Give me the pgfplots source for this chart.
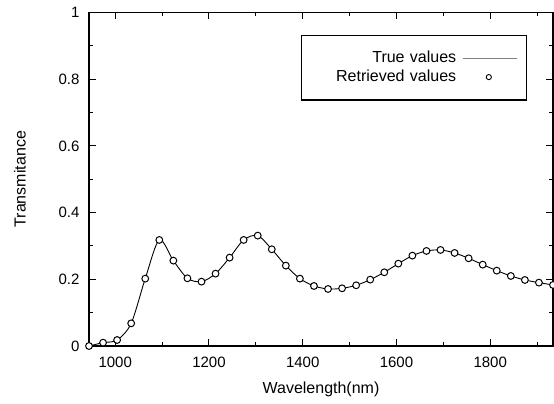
\documentclass[border=0pt]{standalone}
\usepackage{pgfplots}
\pgfplotsset{compat=1.18}
\usepackage{fontspec}
\setmainfont{Liberation Sans}
\pgfplotstableread{
x y
944 0.000
974 0.010
1004 0.018
1034 0.068
1064 0.202
1094 0.318
1124 0.256
1154 0.203
1184 0.193
1214 0.217
1244 0.265
1274 0.318
1304 0.331
1334 0.290
1364 0.241
1394 0.202
1424 0.180
1454 0.171
1484 0.173
1514 0.182
1544 0.199
1574 0.221
1604 0.247
1634 0.271
1664 0.285
1694 0.288
1724 0.279
1754 0.263
1784 0.244
1814 0.226
1844 0.210
1874 0.198
1904 0.190
1934 0.183
}\datatable
\begin{document}
\fontsize{16}{19}\selectfont
\begin{tikzpicture}
\begin{axis}[
  name=ax,
  scale only axis, width=464pt, height=333.5pt,
  xmin=944, xmax=1934, ymin=0, ymax=1,
  xtick={1000,1200,1400,1600,1800},
  xticklabels={1000,1200,1400,1600,1800},
  minor xtick={1100,1300,1500,1700,1900},
  ytick={0,0.2,0.4,0.6,0.8,1},
  yticklabels={0,0.2,0.4,0.6,0.8,1},
  minor ytick={0.1,0.3,0.5,0.7,0.9},
  tick align=inside,
  major tick length=7pt, minor tick length=4pt,
  every tick/.style={black, line width=1pt},
  axis line style={line width=1.2pt},
  ticklabel style={font=\fontsize{15}{18}\selectfont},
  xticklabel style={yshift=-5pt},
  yticklabel style={xshift=-4pt},
  xlabel={Wavelength(nm)}, ylabel={Transmitance},
  label style={font=\fontsize{16}{19}\selectfont},
  xlabel style={at={(rel axis cs:0.5,0)}, anchor=base, yshift=-47pt},
  ylabel style={at={(rel axis cs:0,0.5)}, anchor=center, yshift=69pt},
  legend plot pos=right,
  legend cell align=right,
  legend style={at={(rel axis cs:0.944,0.934)}, anchor=north east,
    draw=black, line width=1.2pt, inner xsep=8pt, inner ysep=15pt,
    font=\fontsize{16}{19}\selectfont, row sep=3pt,
    nodes={inner sep=1pt},
    /tikz/column 1/.style={text width=146pt, align=right}},
]
\addplot[black, line width=0.9pt, smooth, tension=0.5,
  legend image code/.code={\path (0pt,0pt) (60pt,0pt); \draw[gray, line width=1pt] (5pt,0pt) -- (59pt,0pt);}]
  table[x=x,y=y] {\datatable};
\addlegendentry{True values}
\addplot[only marks, mark=*, mark size=3.4pt,
  mark options={fill=white, draw=black, line width=1pt},
  legend image code/.code={\path (0pt,0pt) (60pt,0pt); \draw[black, fill=white, line width=0.9pt] (31pt,0pt) circle (2.6pt);}]
  table[x=x,y=y] {\datatable};
\addlegendentry{Retrieved values}
\end{axis}
\pgfresetboundingbox
\path[use as bounding box] ([xshift=-89pt,yshift=-57pt]ax.south west) rectangle ([xshift=1pt,yshift=12.5pt]ax.north east);
\end{tikzpicture}
\end{document}
